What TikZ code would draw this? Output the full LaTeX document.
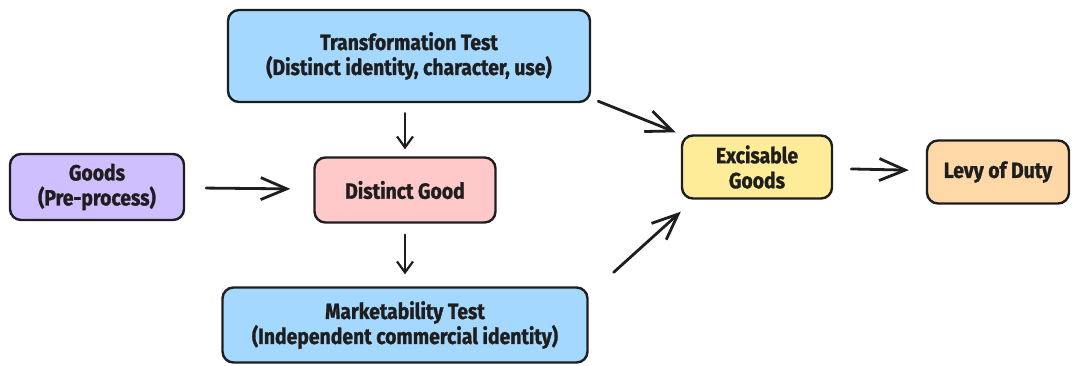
\documentclass[tikz,border=0pt]{standalone}
\usepackage{fontspec}
\setmainfont{Fira Sans}[FakeStretch=0.88, BoldFeatures={FakeBold=1.2}]
\usetikzlibrary{arrows.meta}
\definecolor{testblue}{HTML}{A5D8FF}
\definecolor{goodspurple}{HTML}{D0BFFF}
\definecolor{distinctpink}{HTML}{FFC9C9}
\definecolor{excyellow}{HTML}{FFEC99}
\definecolor{levyorange}{HTML}{FFD8A8}
\definecolor{inkline}{HTML}{1E1E1E}
\tikzset{
    box/.style={draw=inkline, line width=2.4pt, rounded corners=11pt, align=center,
        inner sep=0pt, text=inkline, font=\bfseries\fontsize{22}{25}\selectfont},
    bigarrow/.style={draw=inkline, line width=2.8pt, line cap=round,
        -{Straight Barb[length=26pt,width=22pt,line width=2.8pt]}},
    smallarrow/.style={draw=inkline, line width=2.2pt, line cap=round,
        -{Straight Barb[length=11pt,width=16pt,line width=2.2pt]}}
}
\begin{document}
\begin{tikzpicture}[x=1pt,y=-1pt]
            \useasboundingbox[fill=white] (0,0) rectangle (1072,365);
            \node[box, fill=testblue, minimum width=362, minimum height=92] (trans) at (409,56)
                {Transformation Test\\(Distinct identity, character, use)};
            \node[box, fill=goodspurple, minimum width=174, minimum height=66] (goods) at (97,187)
                {Goods\\(Pre-process)};
            \node[box, fill=distinctpink, minimum width=181, minimum height=65] (distinct) at (405,190)
                {Distinct Good};
            \node[box, fill=testblue, minimum width=365, minimum height=75] (market) at (405,325)
                {Marketability Test\\(Independent commercial identity)};
            \node[box, fill=excyellow, minimum width=150, minimum height=63] (exc) at (757,167)
                {Excisable\\Goods};
            \node[box, fill=levyorange, minimum width=142, minimum height=63] (levy) at (998,172)
                {Levy of Duty};
            \draw[bigarrow, shorten <=21pt, shorten >=23pt] (goods) -- (distinct);
            \draw[smallarrow, shorten <=10pt, shorten >=7pt] (trans.south -| distinct) -- (distinct.north);
            \draw[smallarrow, shorten <=11pt, shorten >=12pt] (distinct.south) -- (market.north -| distinct);
            \draw[bigarrow] ([shift={(7,-2)}]trans.south east) -- ([shift={(-5,-2)}]exc.north west);
            \draw[bigarrow] ([shift={(25,-14)}]market.north east) -- ([shift={(0,12)}]exc.south west);
            \draw[bigarrow, shorten <=18pt, shorten >=17pt] (exc) -- (levy);
        \end{tikzpicture}
\end{document}
